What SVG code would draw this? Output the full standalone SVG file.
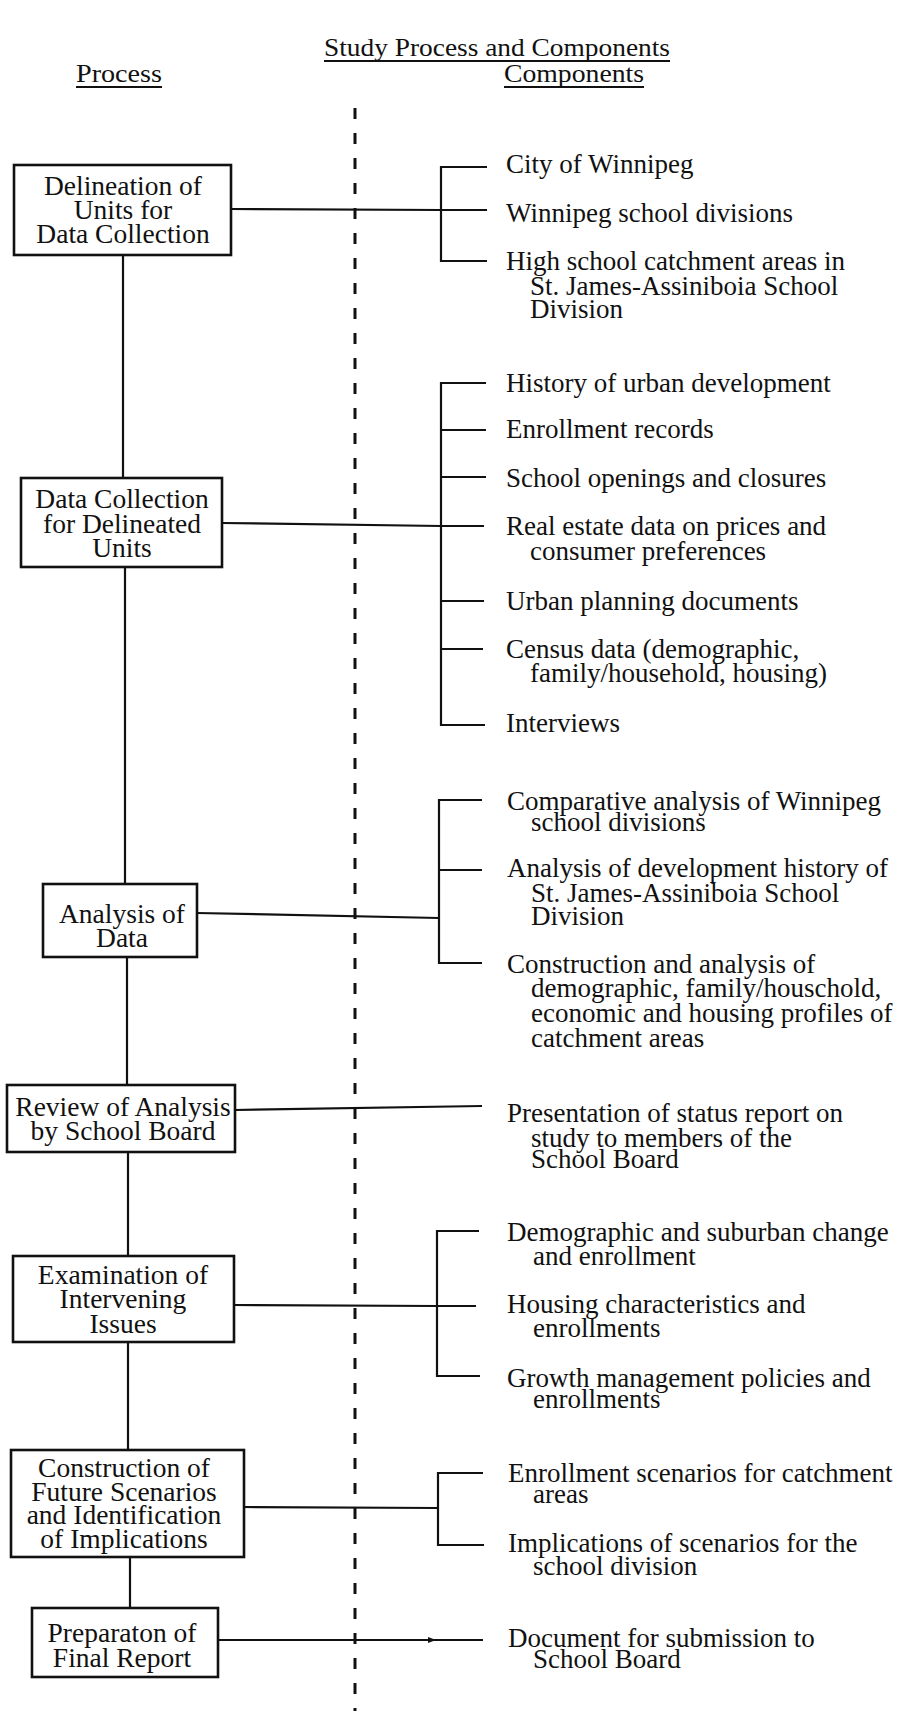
<svg xmlns="http://www.w3.org/2000/svg" width="905" height="1711" viewBox="0 0 905 1711">
<style>
  .t{font-family:"Liberation Serif","Times New Roman",serif;fill:#111;}
  .h{font-size:26px;}
  .b{font-size:27.5px;text-anchor:middle;}
  .c{font-size:27px;}
  .box{fill:#fff;stroke:#111;stroke-width:2.6;}
  .ln{stroke:#111;stroke-width:2.2;fill:none;}
  .ul{stroke:#111;stroke-width:2;}
  .dash{stroke:#111;stroke-width:3;stroke-dasharray:11 14;fill:none;}
</style>
<rect width="905" height="1711" fill="#fff"/>

<g id="headings">
  <text class="t h" x="324" y="56" textLength="346" lengthAdjust="spacingAndGlyphs">Study Process and Components</text>
  <line class="ul" x1="324" y1="61" x2="670" y2="61"/>
  <text class="t h" x="76" y="82" textLength="86" lengthAdjust="spacingAndGlyphs">Process</text>
  <line class="ul" x1="76" y1="87" x2="162" y2="87"/>
  <text class="t h" x="504" y="82" textLength="140" lengthAdjust="spacingAndGlyphs">Components</text>
  <line class="ul" x1="504" y1="87" x2="644" y2="87"/>
</g>

<g id="divider">
  <line class="dash" x1="355" y1="108" x2="355" y2="1711"/>
</g>

<g id="connectors">
  <!-- main process spine -->
  <line class="ln" x1="123" y1="255" x2="123" y2="478"/>
  <line class="ln" x1="125" y1="567" x2="125" y2="884"/>
  <line class="ln" x1="127" y1="957" x2="127" y2="1085"/>
  <line class="ln" x1="128" y1="1152" x2="128" y2="1256"/>
  <line class="ln" x1="128" y1="1342" x2="128" y2="1450"/>
  <line class="ln" x1="130" y1="1557" x2="130" y2="1608"/>

  <!-- step 1 -->
  <line class="ln" x1="231" y1="209" x2="441" y2="210"/>
  <path class="ln" d="M487,167 H441 V261 H487 M441,210 H487"/>

  <!-- step 2 -->
  <line class="ln" x1="222" y1="523" x2="441" y2="526"/>
  <path class="ln" d="M486,383 H441 V725 H485 M441,430 H486 M441,477 H486 M441,526 H484 M441,601 H484 M441,649 H483"/>

  <!-- step 3 -->
  <line class="ln" x1="197" y1="913" x2="439" y2="918"/>
  <path class="ln" d="M482,800 H439 V963 H482 M439,870 H482"/>

  <!-- step 4 -->
  <line class="ln" x1="235" y1="1110" x2="482" y2="1106"/>

  <!-- step 5 -->
  <line class="ln" x1="234" y1="1305" x2="437" y2="1306"/>
  <path class="ln" d="M479,1231 H437 V1376 H480 M437,1306 H476"/>

  <!-- step 6 -->
  <line class="ln" x1="244" y1="1507" x2="438" y2="1508"/>
  <path class="ln" d="M483,1473 H438 V1545 H484"/>

  <!-- step 7 -->
  <line class="ln" x1="218" y1="1640" x2="483" y2="1640"/>
  <path d="M428,1637 L436,1640 L428,1643 Z" fill="#111"/>
</g>

<g id="p1">
  <rect class="box" x="14" y="165" width="217" height="90"/>
  <text class="t b" x="123" y="195">Delineation of</text>
  <text class="t b" x="123" y="219">Units for</text>
  <text class="t b" x="123" y="243">Data Collection</text>
</g>
<g id="p2">
  <rect class="box" x="21" y="478" width="201" height="89"/>
  <text class="t b" x="122" y="508">Data Collection</text>
  <text class="t b" x="122" y="533">for Delineated</text>
  <text class="t b" x="122" y="557">Units</text>
</g>
<g id="p3">
  <rect class="box" x="43" y="884" width="154" height="73"/>
  <text class="t b" x="122" y="923">Analysis of</text>
  <text class="t b" x="122" y="947">Data</text>
</g>
<g id="p4">
  <rect class="box" x="7" y="1085" width="228" height="67"/>
  <text class="t b" x="123" y="1116">Review of Analysis</text>
  <text class="t b" x="123" y="1140">by School Board</text>
</g>
<g id="p5">
  <rect class="box" x="13" y="1256" width="221" height="86"/>
  <text class="t b" x="123" y="1284">Examination of</text>
  <text class="t b" x="123" y="1308">Intervening</text>
  <text class="t b" x="123" y="1333">Issues</text>
</g>
<g id="p6">
  <rect class="box" x="11" y="1450" width="233" height="107"/>
  <text class="t b" x="124" y="1477">Construction of</text>
  <text class="t b" x="124" y="1501">Future Scenarios</text>
  <text class="t b" x="124" y="1524">and Identification</text>
  <text class="t b" x="124" y="1548">of Implications</text>
</g>
<g id="p7">
  <rect class="box" x="32" y="1608" width="186" height="69"/>
  <text class="t b" x="122" y="1642">Preparaton of</text>
  <text class="t b" x="122" y="1667">Final Report</text>
</g>

<g id="c1">
  <text class="t c" x="506" y="173">City of Winnipeg</text>
  <text class="t c" x="506" y="222">Winnipeg school divisions</text>
  <text class="t c" x="506" y="270">High school catchment areas in</text>
  <text class="t c" x="530" y="295">St. James-Assiniboia School</text>
  <text class="t c" x="530" y="318">Division</text>
</g>
<g id="c2">
  <text class="t c" x="506" y="392">History of urban development</text>
  <text class="t c" x="506" y="438">Enrollment records</text>
  <text class="t c" x="506" y="487">School openings and closures</text>
  <text class="t c" x="506" y="535">Real estate data on prices and</text>
  <text class="t c" x="530" y="560">consumer preferences</text>
  <text class="t c" x="506" y="610">Urban planning documents</text>
  <text class="t c" x="506" y="658">Census data (demographic,</text>
  <text class="t c" x="530" y="682">family/household, housing)</text>
  <text class="t c" x="506" y="732">Interviews</text>
</g>
<g id="c3">
  <text class="t c" x="507" y="810">Comparative analysis of Winnipeg</text>
  <text class="t c" x="531" y="831">school divisions</text>
  <text class="t c" x="507" y="877">Analysis of development history of</text>
  <text class="t c" x="531" y="902">St. James-Assiniboia School</text>
  <text class="t c" x="531" y="925">Division</text>
  <text class="t c" x="507" y="973">Construction and analysis of</text>
  <text class="t c" x="531" y="997">demographic, family/houschold,</text>
  <text class="t c" x="531" y="1022">economic and housing profiles of</text>
  <text class="t c" x="531" y="1047">catchment areas</text>
</g>
<g id="c4">
  <text class="t c" x="507" y="1122">Presentation of status report on</text>
  <text class="t c" x="531" y="1147">study to members of the</text>
  <text class="t c" x="531" y="1168">School Board</text>
</g>
<g id="c5">
  <text class="t c" x="507" y="1241">Demographic and suburban change</text>
  <text class="t c" x="533" y="1265">and enrollment</text>
  <text class="t c" x="507" y="1313">Housing characteristics and</text>
  <text class="t c" x="533" y="1337">enrollments</text>
  <text class="t c" x="507" y="1387">Growth management policies and</text>
  <text class="t c" x="533" y="1408">enrollments</text>
</g>
<g id="c6">
  <text class="t c" x="508" y="1482">Enrollment scenarios for catchment</text>
  <text class="t c" x="533" y="1503">areas</text>
  <text class="t c" x="508" y="1552">Implications of scenarios for the</text>
  <text class="t c" x="533" y="1575">school division</text>
</g>
<g id="c7">
  <text class="t c" x="508" y="1647">Document for submission to</text>
  <text class="t c" x="533" y="1668">School Board</text>
</g>
</svg>
